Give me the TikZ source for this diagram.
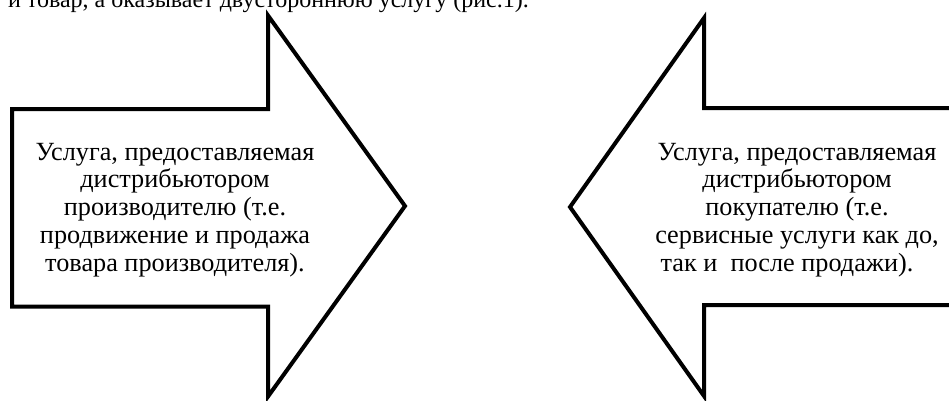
\documentclass[tikz,border=0pt]{standalone}
\usepackage{fontspec}
\setmainfont{Liberation Serif}
\begin{document}
\begin{tikzpicture}[x=1bp,y=-1bp,
  arrowshape/.style={draw=black,line width=4bp,line join=miter,fill=white},
  boxtext/.style={align=center,anchor=base,inner sep=0pt,
    font={\fontsize{26.25bp}{27.75bp}\selectfont}},
  headtext/.style={anchor=base east,inner sep=0pt,
    font={\fontsize{24bp}{27bp}\selectfont}}]
\useasboundingbox (0,0) rectangle (949,400);
\clip (0,0) rectangle (949,400);

% running text of the page, cut by the top edge
\node[headtext] (lead) at (529,7) {и товар, а оказывает двустороннюю услугу (рис.1).};

% arrow to the right: service for the producer
\draw[arrowshape] (12,109) -- (268,109) -- (268,15.5) -- (405,206)
  -- (268,396.5) -- (268,306.5) -- (12,306.5) -- cycle;
% arrow to the left: service for the buyer
\draw[arrowshape] (960,108) -- (704,108) -- (704,18) -- (570,207)
  -- (704,396) -- (704,305) -- (960,305);

% texts inside the arrows (anchored at the baseline of the last line)
\node[boxtext] (producer) at (175,271)
  {Услуга, предоставляемая\\
   дистрибьютором\hspace*{22bp}\\
   производителю (т.е.\\
   продвижение и продажа\\
   товара производителя).};
\node[boxtext] (buyer) at (797,271)
  {Услуга, предоставляемая\\
   дистрибьютором\hspace*{25bp}\\
   покупателю (т.е.\\
   сервисные услуги как до,\\
   так и\ \ после продажи).\hspace*{20bp}};
\end{tikzpicture}
\end{document}
